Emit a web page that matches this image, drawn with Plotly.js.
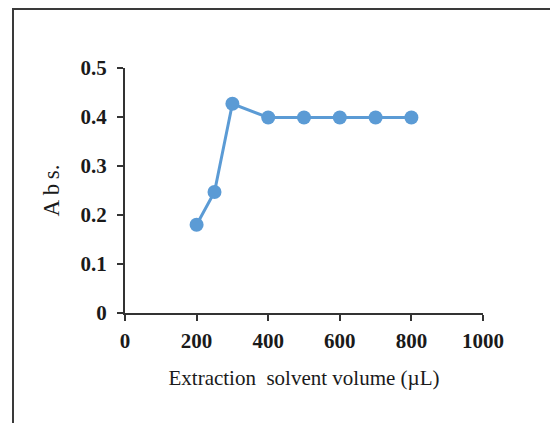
<!DOCTYPE html>
<html>
<head>
<meta charset="utf-8">
<script src="https://cdn.plot.ly/plotly-3.0.1.min.js"></script>
<style>
html,body{margin:0;padding:0;background:#fff;}
#wrap{position:relative;width:550px;height:423px;overflow:hidden;}
#chart{position:absolute;left:0;top:0;width:550px;height:423px;}
#frame{position:absolute;left:12px;top:8px;width:560px;height:440px;border-top:2px solid #3a3a3a;border-left:2px solid #3a3a3a;pointer-events:none;}
</style>
</head>
<body>
<div id="wrap">
<div id="chart"></div>
<div id="frame"></div>
</div>
<script>
const volumes = [200, 250, 300, 400, 500, 600, 700, 800];
const absorbance = [0.18, 0.247, 0.427, 0.399, 0.399, 0.399, 0.399, 0.399];
const xTicks = [0, 200, 400, 600, 800, 1000];
const yTicks = [0, 0.1, 0.2, 0.3, 0.4, 0.5];
const yTickLabels = ['0', '0.1', '0.2', '0.3', '0.4', '0.5'];

const serif = 'Liberation Serif, Times New Roman, serif';
const tickFont = {family: serif, size: 21, color: '#1a1a1a', weight: 'bold'};

const trace = {
  x: volumes,
  y: absorbance,
  type: 'scatter',
  mode: 'lines+markers',
  line: {color: '#5B9BD5', width: 3},
  marker: {color: '#5B9BD5', size: 14},
  showlegend: false,
  cliponaxis: false
};

const layout = {
  width: 550,
  height: 423,
  margin: {l: 125, r: 67, t: 68, b: 110},
  paper_bgcolor: '#ffffff',
  plot_bgcolor: '#ffffff',
  xaxis: {
    range: [0, 1000],
    tickvals: xTicks,
    ticktext: xTicks.map(String),
    showgrid: false,
    zeroline: false,
    showline: true,
    linecolor: '#333333',
    linewidth: 2,
    ticks: 'outside',
    ticklen: 6,
    tickwidth: 2,
    tickcolor: '#333333',
    tickfont: tickFont,
    ticklabelstandoff: 2,
    title: {text: 'Extraction&nbsp;&nbsp;solvent volume (µL)', font: {family: serif, size: 21, color: '#1a1a1a'}, standoff: 18}
  },
  yaxis: {
    range: [0, 0.5],
    tickvals: yTicks,
    ticktext: yTickLabels,
    showgrid: false,
    zeroline: false,
    showline: true,
    linecolor: '#333333',
    linewidth: 2,
    ticks: 'outside',
    ticklen: 6,
    tickwidth: 2,
    tickcolor: '#333333',
    tickfont: tickFont,
    ticklabelstandoff: 6,
    title: {text: 'A\u2009b\u2009s.', font: {family: serif, size: 23, color: '#1a1a1a'}, standoff: 14}
  }
};

Plotly.newPlot('chart', [trace], layout, {displayModeBar: false, staticPlot: true});
</script>
</body>
</html>
